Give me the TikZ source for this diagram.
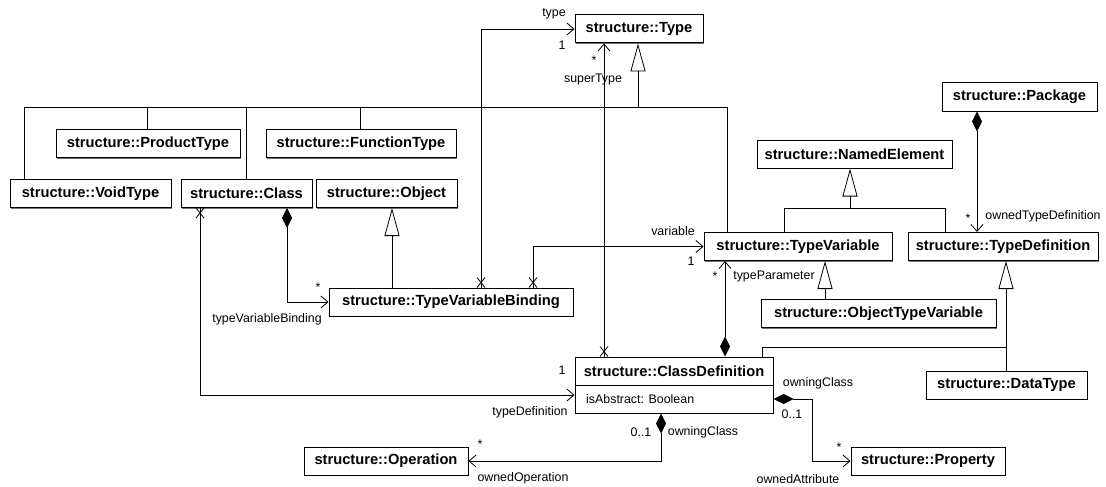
\documentclass[tikz,border=0pt]{standalone}
\usepackage{fontspec}
\setmainfont{Liberation Sans}
\usetikzlibrary{arrows.meta,calc,shadows}
\begin{document}
\begin{tikzpicture}[x=1pt,y=-1pt,
  box/.style={draw, line width=1pt, inner sep=0pt, minimum height=28pt, fill=white,
    general shadow={fill=black!55, shadow xshift=1.2pt, shadow yshift=-1.2pt},
    font=\fontsize{14.7}{16}\selectfont\bfseries},
  lbl/.style={font=\fontsize{12.4}{14}\selectfont, inner sep=0pt},
  conn/.style={line width=0.8pt},
  gen/.style={conn, -{Triangle[open,length=28pt,width=15pt,line width=0.8pt]}},
  nav/.style={conn, -{Straight Barb[length=7pt,width=12pt,line width=0.8pt]}},
  compnav/.style={conn, {Diamond[length=20pt,width=10pt]}-{Straight Barb[length=7pt,width=12pt,line width=0.8pt]}},
  xmark/.pic={\draw[conn] (-4,0) -- (4,-10) (4,0) -- (-4,-10);}
]
\useasboundingbox (0,0) rectangle (1106,487);

% ---------- boxes ----------
\node[box, minimum width=128pt] (Type) at (639,29) {structure::Type};
\node[box, minimum width=184pt] (Product) at (148,143.5) {structure::ProductType};
\node[box, minimum width=190pt] (Function) at (361,143.5) {structure::FunctionType};
\node[box, minimum width=161pt] (Void) at (90.5,193.5) {structure::VoidType};
\node[box, minimum width=131pt] (Class) at (246.5,193.5) {structure::Class};
\node[box, minimum width=141pt] (Object) at (386.5,193.5) {structure::Object};
\node[box, minimum width=244pt] (TVB) at (451,302) {structure::TypeVariableBinding};
\node[box, minimum width=195pt] (Named) at (854.5,154) {structure::NamedElement};
\node[box, minimum width=155pt] (Package) at (1019.5,97) {structure::Package};
\node[box, minimum width=188pt] (TV) at (798,246.5) {structure::TypeVariable};
\node[box, minimum width=190pt] (TD) at (1003,246.5) {structure::TypeDefinition};
\node[box, minimum width=235pt] (OTV) at (878.5,313.5) {structure::ObjectTypeVariable};
\node[box, minimum width=161pt] (DT) at (1006.5,385) {structure::DataType};
\node[box, minimum width=198pt, minimum height=56pt] (CD) at (674,385) {};
\node[font=\fontsize{14.7}{16}\selectfont\bfseries, inner sep=0pt] (CDt) at (674,371) {structure::ClassDefinition};
\draw[line width=0.8pt] (CD.west) -- (CD.east);
\node[lbl, anchor=west] (CDa) at (586,399.5) {isAbstract: Boolean};
\node[box, minimum width=164pt] (Op) at (386,461) {structure::Operation};
\node[box, minimum width=154pt] (Prop) at (928,461) {structure::Property};

% ---------- helper coordinates ----------
\coordinate (busL) at (24,107);
\coordinate (busR) at (727,107);
\coordinate (bP) at (147,107);
\coordinate (bF) at (360,107);
\coordinate (bT) at (638,107);
\coordinate (xObj) at (392,0);
\coordinate (xClsX) at (200,0);
\coordinate (xClsD) at (287,0);
\coordinate (xType) at (481,0);
\coordinate (xVar) at (533,0);
\coordinate (xSup) at (604,0);
\coordinate (xPar) at (725,0);
\coordinate (yTD) at (0,395);
\coordinate (nL) at (784,208);
\coordinate (nR) at (945,208);
\coordinate (nM) at (850,208);
\coordinate (xPkg) at (977,0);
\coordinate (xOTV) at (825,0);
\coordinate (xDT) at (1006,0);
\coordinate (dY) at (1006,347);
\coordinate (xCDR) at (762,0);
\coordinate (xOp) at (661,0);
\coordinate (yAtt) at (0,399);
\coordinate (aTurn) at (812,399);

% ---------- generalizations ----------
\draw[conn] (Void.north -| busL) -- (busL) -- (busR) -- (busR |- TV.north);
\draw[conn] (bP) -- (bP |- Product.north);
\draw[conn] (bF) -- (bF |- Function.north);
\draw[conn] (Class.north |- busL) -- (Class.north);
\draw[gen] (bT) -- (bT |- Type.south);
\draw[gen] (TVB.north -| xObj) -- (Object.south -| xObj);
\draw[conn] (TV.north -| nL) -- (nL) -- (nR) -- (TD.north -| nR);
\draw[gen] (nM) -- (Named.south -| nM);
\draw[gen] (OTV.north -| xOTV) -- (TV.south -| xOTV);
\draw[gen] (DT.north -| xDT) -- (TD.south -| xDT);
\draw[conn] (CD.north -| xCDR) -- (xCDR |- dY) -- (dY);

% ---------- associations ----------
\draw[compnav] (Class.south -| xClsD) |- (TVB.west);
\draw[nav] (Class.south -| xClsX) |- (CD.west |- yTD);
\pic[rotate=180] at (Class.south -| xClsX) {xmark};
\draw[nav] (TVB.north -| xType) |- (Type.west);
\pic at (TVB.north -| xType) {xmark};
\draw[nav] (TVB.north -| xVar) |- (TV.west);
\pic at (TVB.north -| xVar) {xmark};
\draw[nav] (CD.north -| xSup) -- (Type.south -| xSup);
\pic at (CD.north -| xSup) {xmark};
\draw[compnav] (CD.north -| xPar) -- (TV.south -| xPar);
\draw[compnav] (Package.south -| xPkg) -- (TD.north -| xPkg);
\draw[compnav] (CD.south -| xOp) |- (Op.east);
\draw[compnav] (CD.east |- yAtt) -- (aTurn) |- (Prop.west);

% ---------- labels ----------
\node[lbl] (l1) at (554,14) {type};
\node[lbl] (l2) at (562,45) {1};
\node[lbl] (l3) at (594,60) {*};
\node[lbl] (l4) at (593,80) {superType};
\node[lbl] (l5) at (673,231) {variable};
\node[lbl] (l6) at (691,261) {1};
\node[lbl] (l7) at (715,276) {*};
\node[lbl] (l8) at (774,277) {typeParameter};
\node[lbl] (l9) at (968,218) {*};
\node[lbl] (l10) at (1043,216) {ownedTypeDefinition};
\node[lbl] (l11) at (318,287) {*};
\node[lbl] (l12) at (267,319) {typeVariableBinding};
\node[lbl] (l13) at (562,370) {1};
\node[lbl] (l14) at (530,412) {typeDefinition};
\node[lbl] (l15) at (641,432) {0..1};
\node[lbl] (l16) at (703,432) {owningClass};
\node[lbl] (l17) at (480,444) {*};
\node[lbl] (l18) at (523,478) {ownedOperation};
\node[lbl] (l19) at (818,383) {owningClass};
\node[lbl] (l20) at (792,414) {0..1};
\node[lbl] (l21) at (839,447) {*};
\node[lbl] (l22) at (798,479) {ownedAttribute};
\end{tikzpicture}
\end{document}
